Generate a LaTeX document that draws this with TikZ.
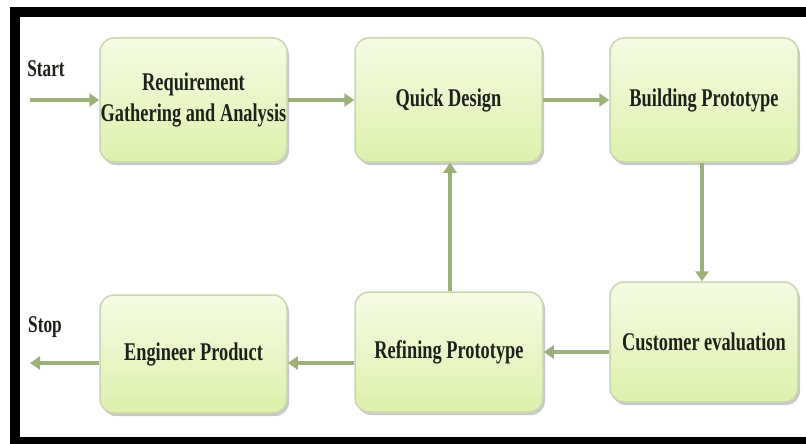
\documentclass[tikz,border=0pt]{standalone}
\usepackage{fontspec}
\setmainfont{Liberation Serif}[FakeStretch=0.72]
\usetikzlibrary{arrows.meta,shadows}
\definecolor{arrowgreen}{HTML}{9DB07A}
\definecolor{boxedge}{HTML}{C9D6AE}
\definecolor{boxtop}{HTML}{F5FBE4}
\definecolor{boxbot}{HTML}{DDF1AC}
\definecolor{txt}{HTML}{1E211A}
\tikzset{
  stage/.style={draw=boxedge, line width=1.5pt, rounded corners=14pt,
    top color=boxtop, bottom color=boxbot,
    drop shadow={shadow xshift=2pt, shadow yshift=-3pt, opacity=0.35, fill=black!60},
    align=center, text=txt, font=\bfseries\fontsize{25.5}{31}\selectfont,
    inner sep=0pt},
  flow/.style={draw=arrowgreen, line width=4pt,
    -{Triangle[length=10pt,width=13pt]}},
  term/.style={text=txt, font=\bfseries\fontsize{24}{28}\selectfont, inner sep=0pt}
}
\begin{document}
\begin{tikzpicture}[x=1pt,y=-1pt]
\useasboundingbox (0,0) rectangle (806,444);
\clip (0,0) rectangle (806,444);
\fill[white] (0,0) rectangle (806,444);
\draw[line width=10pt] (15,12) rectangle (812,442);
% stages
\node[stage, minimum width=187pt, minimum height=124pt] (req) at (193.5,100) {Requirement\\Gathering and Analysis};
\node[stage, minimum width=187pt, minimum height=124pt] (qd) at (448.5,100) {Quick Design};
\node[stage, minimum width=188pt, minimum height=124pt] (bp) at (704,100) {Building Prototype};
\node[stage, minimum width=188pt, minimum height=120pt] (ce) at (704,342) {Customer evaluation};
\node[stage, minimum width=188pt, minimum height=120pt] (rp) at (449,352) {Refining Prototype};
\node[stage, minimum width=187pt, minimum height=118pt] (ep) at (193.5,354) {Engineer Product};
% terminals
\node[term] (start) at (46,69) {Start};
\node[term] (stop) at (45,327) {Stop};
\coordinate (sa) at (30,100);
\coordinate (sb) at (30,363);
% connectors
\draw[flow] (sa) -- (req.west |- sa);
\draw[flow] (req.east) -- (qd.west);
\draw[flow] (qd.east) -- (bp.west);
\draw[flow] (bp.south -| 702,0) -- (ce.north -| 702,0);
\draw[flow] (ce.west |- 0,352) -- (rp.east |- 0,352);
\draw[flow] (rp.north -| 450,0) -- (qd.south -| 450,0);
\draw[flow] (rp.west |- sb) -- (ep.east |- sb);
\draw[flow] (ep.west |- sb) -- (sb);
\end{tikzpicture}
\end{document}
